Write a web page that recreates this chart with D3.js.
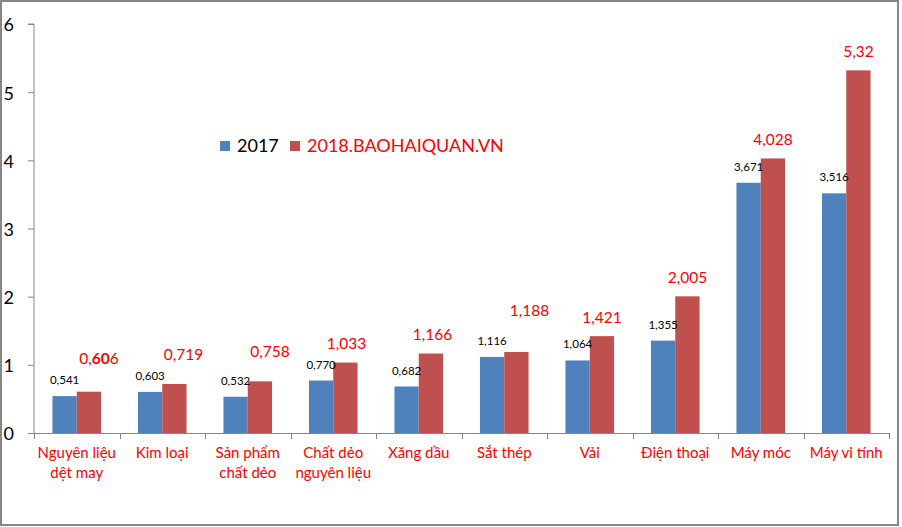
<!DOCTYPE html>
<html>
<head>
<meta charset="utf-8">
<script src="https://cdn.jsdelivr.net/npm/d3@7"></script>
<style>
  html, body { margin: 0; padding: 0; background: #fff; }
  svg { display: block; font-family: Lato, "Open Sans", sans-serif; }
</style>
</head>
<body>
<div id="chart"></div>
<script>
// data
const categories = [
  ["Nguyên liệu", "dệt may"],
  ["Kim loại"],
  ["Sản phẩm", "chất dẻo"],
  ["Chất dẻo", "nguyên liệu"],
  ["Xăng dầu"],
  ["Sắt thép"],
  ["Vải"],
  ["Điện thoại"],
  ["Máy móc"],
  ["Máy vi tính"],
];
const values2017 = [0.541, 0.603, 0.532, 0.770, 0.682, 1.116, 1.064, 1.355, 3.671, 3.516];
const values2018 = [0.606, 0.719, 0.758, 1.033, 1.166, 1.188, 1.421, 2.005, 4.028, 5.32];
const seriesNames = ["2017", "2018.BAOHAIQUAN.VN"];
const yTicks = [0, 1, 2, 3, 4, 5, 6];

// the 2018 labels were dragged by hand in the original: [dx, lift] in px
const labelNudge2018 = [
  [10, 28], [9, 24], [10, 24], [1, 14], [1.5, 14],
  [13, 36], [0, 13], [0, 13], [0, 13], [0, 13.5],
];

const width = 902;
const height = 527;
const blue = "#4F81BD";
const red = "#C0504D";
const axisGrey = "#868686";

const svg = d3
  .select("#chart")
  .append("svg")
  .attr("width", width)
  .attr("height", height);

// frame
svg
  .append("rect")
  .attr("x", 1)
  .attr("y", 1)
  .attr("width", 897)
  .attr("height", 524)
  .attr("fill", "#fff")
  .attr("stroke", axisGrey)
  .attr("stroke-width", 2);

const x = d3
  .scaleBand()
  .domain(d3.range(categories.length))
  .range([34, 889])
  .padding(0);

const xInner = d3
  .scaleBand()
  .domain([0, 1])
  .range([0, x.bandwidth()])
  .paddingInner(0)
  .paddingOuter(0.76);

const y = d3.scaleLinear().domain([0, 6]).range([433, 24]);

// y axis
const yAxis = svg
  .append("g")
  .attr("transform", "translate(34,0)")
  .call(d3.axisLeft(y).tickValues(yTicks).tickSize(6).tickPadding(14).tickFormat(d3.format("d")));
yAxis.select(".domain").attr("stroke", axisGrey).attr("d", `M-6,${y(6)}H0V${y(0)}`);
yAxis.selectAll(".tick line").attr("stroke", axisGrey);
yAxis
  .selectAll(".tick text")
  .attr("font-family", "Lato, 'Open Sans', sans-serif")
  .attr("font-size", 18)
  .attr("fill", "#000")
  .attr("dy", "0.38em");

// x axis line and category ticks
svg
  .append("line")
  .attr("x1", 34)
  .attr("x2", 889)
  .attr("y1", y(0) + 0.5)
  .attr("y2", y(0) + 0.5)
  .attr("stroke", axisGrey);

svg
  .append("g")
  .selectAll("line")
  .data(d3.range(categories.length + 1))
  .enter()
  .append("line")
  .attr("x1", (d) => Math.round(34 + d * x.step()) + 0.5)
  .attr("x2", (d) => Math.round(34 + d * x.step()) + 0.5)
  .attr("y1", y(0))
  .attr("y2", y(0) + 6)
  .attr("stroke", axisGrey);

// bars
const groups = svg
  .append("g")
  .selectAll("g")
  .data(categories.map((c, i) => [values2017[i], values2018[i]]))
  .enter()
  .append("g")
  .attr("transform", (d, i) => `translate(${x(i)},0)`);

groups
  .selectAll("rect")
  .data((d) => d)
  .enter()
  .append("rect")
  .attr("x", (d, j) => xInner(j))
  .attr("width", xInner.bandwidth())
  .attr("y", (d) => y(d))
  .attr("height", (d) => y(0) - y(d))
  .attr("fill", (d, j) => (j === 0 ? blue : red));

// 2017 labels
svg
  .append("g")
  .selectAll("text")
  .data(values2017)
  .enter()
  .append("text")
  .attr("x", (d, i) => x(i) + xInner(0) + xInner.bandwidth() / 2)
  .attr("y", (d) => y(d) - 12)
  .attr("text-anchor", "middle")
  .attr("font-size", 11.5)
  .attr("fill", "#000")
  .text((d) => d3.format(".3f")(d).replace(".", ","));

// 2018 labels
svg
  .append("g")
  .selectAll("text")
  .data(values2018)
  .enter()
  .append("text")
  .attr("x", (d, i) => x(i) + xInner(1) + xInner.bandwidth() / 2 + labelNudge2018[i][0])
  .attr("y", (d, i) => y(d) - labelNudge2018[i][1])
  .attr("text-anchor", "middle")
  .attr("font-size", 15.5)
  .attr("fill", "#FF0000")
  .each(function (d) {
    const label = String(d).replace(".", ",");
    const t = d3.select(this);
    if (label === "0,606") {
      // the picture has the middle digits in bold
      t.append("tspan").text("0,");
      t.append("tspan").attr("font-weight", "bold").text("60");
      t.append("tspan").text("6");
    } else {
      t.text(label);
    }
  });

// category labels
svg
  .append("g")
  .selectAll("text")
  .data(categories)
  .enter()
  .append("text")
  .attr("x", (d, i) => x(i) + x.bandwidth() / 2)
  .attr("y", 458)
  .attr("text-anchor", "middle")
  .attr("font-size", 15)
  .attr("fill", "#FF0000")
  .selectAll("tspan")
  .data((d) => d)
  .enter()
  .append("tspan")
  .attr("x", function () {
    return d3.select(this.parentNode).attr("x");
  })
  .attr("dy", (d, j) => (j === 0 ? 0 : 20))
  .text((d) => d);

// legend
const legend = svg.append("g").attr("transform", "translate(220,141)");
legend.append("rect").attr("width", 10).attr("height", 10).attr("fill", blue);
legend
  .append("text")
  .attr("x", 17)
  .attr("y", 11)
  .attr("font-size", 18)
  .attr("fill", "#000")
  .text(seriesNames[0]);
legend.append("rect").attr("x", 70).attr("width", 10).attr("height", 10).attr("fill", red);
legend
  .append("text")
  .attr("x", 87)
  .attr("y", 11)
  .attr("font-size", 18)
  .attr("fill", "#FF0000")
  .text(seriesNames[1]);
</script>
</body>
</html>
